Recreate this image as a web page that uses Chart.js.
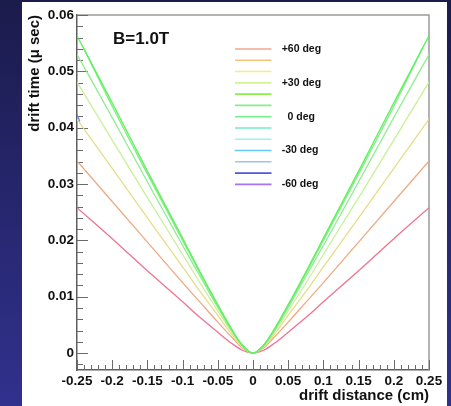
<!DOCTYPE html>
<html><head><meta charset="utf-8">
<script src="https://cdn.jsdelivr.net/npm/chart.js@4/dist/chart.umd.min.js"></script>
<style>
html,body{margin:0;padding:0;width:451px;height:406px;overflow:hidden;background:linear-gradient(180deg,#1b1b4c 0%,#26266e 50%,#31318e 100%);}
#panel{position:absolute;left:22px;top:2px;width:425px;height:404px;background:#fff;}
canvas{display:block;}
</style></head><body>
<div id="panel"><canvas id="c" width="425" height="404"></canvas></div>
<script>
// ---- data ----
const xDist = [-0.25,-0.2,-0.15,-0.1,-0.075,-0.05,-0.03,-0.015,0,0.015,0.03,0.05,0.075,0.1,0.15,0.2,0.25];
const xDistShort = [-0.241,-0.2,-0.15,-0.1,-0.075,-0.05,-0.03,-0.015,0,0.015,0.03,0.05,0.075,0.1,0.15,0.2,0.241];
const xDistEdge = [-0.25,-0.246];

const tPlus60 = [0.0258,0.0203,0.0146,0.0091,0.0063,0.0037,0.0017,0.0005,0,0.0005,0.0017,0.0037,0.0063,0.0091,0.0146,0.0203,0.0258];
const tPlus50 = [0.0341,0.0269,0.0197,0.0125,0.0090,0.0055,0.0028,0.0009,0,0.0009,0.0028,0.0055,0.0090,0.0125,0.0197,0.0269,0.0341];
const tPlus40 = [0.0415,0.0328,0.0240,0.0153,0.0109,0.0067,0.0033,0.0011,0,0.0011,0.0033,0.0067,0.0109,0.0153,0.0240,0.0328,0.0415];
const tPlus30 = [0.0481,0.0378,0.0276,0.0175,0.0124,0.0075,0.0037,0.0012,0,0.0012,0.0037,0.0075,0.0124,0.0175,0.0276,0.0378,0.0481];
const tPlus20 = [0.0530,0.0418,0.0304,0.0191,0.0136,0.0081,0.0039,0.0013,0,0.0013,0.0039,0.0081,0.0136,0.0191,0.0304,0.0418,0.0530];
const tPlus10 = [0.0542,0.0438,0.0318,0.0200,0.0141,0.0084,0.0041,0.0014,0,0.0014,0.0041,0.0084,0.0141,0.0200,0.0318,0.0438,0.0542];
const tZero   = [0.0563,0.0444,0.0323,0.0204,0.0144,0.0086,0.0042,0.0014,0,0.0014,0.0042,0.0086,0.0144,0.0204,0.0323,0.0444,0.0563];
const tMinus40 = [0.0424,0.0411];

const angleLabels = ['+60 deg','+50 deg','+40 deg','+30 deg','+20 deg','+10 deg','0 deg','-10 deg','-20 deg','-30 deg','-40 deg','-50 deg','-60 deg'];
const legendText = ['+60 deg','','','+30 deg','','','  0 deg','','','-30 deg','','','-60 deg'];

const xTickValues = [-0.25,-0.2,-0.15,-0.1,-0.05,0,0.05,0.1,0.15,0.2,0.25];
const xTickLabels = ['-0.25','-0.2','-0.15','-0.1','-0.05','0','0.05','0.1','0.15','0.2','0.25'];
const yTickValues = [0,0.01,0.02,0.03,0.04,0.05,0.06];
const yTickLabels = ['0','0.01','0.02','0.03','0.04','0.05','0.06'];

// ---- styles ----
const legendColors = ['#f6a58e','#f7c27a','#f0ee88','#d4f296','#8cee4c','#86ee86','#74ee8a','#74eec4','#98f4f4','#66c8f4','#a6c0ee','#5454de','#a474f4'];
const curveColors = {'+60 deg':'#ee7590','+50 deg':'#eeaa82','+40 deg':'#e8dc8a','+30 deg':'#c8f098','+20 deg':'#8cee8c','+10 deg':'#7cee7c','0 deg':'#5ef05e','-40 deg':'#6a8ee8'};

function pts(xs, ys){ return xs.map((x,i)=>({x:x,y:ys[i]})); }

const seriesMap = {
  '+60 deg':[xDist,tPlus60], '+50 deg':[xDist,tPlus50], '+40 deg':[xDist,tPlus40],
  '+30 deg':[xDist,tPlus30], '+20 deg':[xDist,tPlus20], '+10 deg':[xDistShort,tPlus10],
  '0 deg':[xDist,tZero], '-40 deg':[xDistEdge,tMinus40]
};

const datasets = angleLabels.map((lab,i)=>{
  const s = seriesMap[lab];
  return {
    label: lab,
    data: s ? pts(s[0], s[1]) : [],
    borderColor: curveColors[lab] || legendColors[i],
    borderWidth: 1.3,
    pointRadius: 0,
    fill: false,
    cubicInterpolationMode: 'monotone',
    order: 20 - i
  };
});

const FONT = "'Liberation Sans', Arial, Helvetica, sans-serif";

const decorPlugin = {
  id: 'decor',
  beforeDatasetsDraw(chart){
    const {ctx, chartArea:a, scales:{x, y}} = chart;
    ctx.save();
    // frame top/right
    ctx.strokeStyle = '#9a9a9a';
    ctx.lineWidth = 1.5;
    ctx.beginPath();
    ctx.moveTo(a.left, a.top); ctx.lineTo(a.right, a.top); ctx.lineTo(a.right, a.bottom);
    ctx.stroke();
    // inward ticks
    ctx.strokeStyle = '#6a6a6a';
    ctx.lineWidth = 1;
    ctx.beginPath();
    for (let k = -1; k <= 30; k++) {
      const v = k * 0.002;
      if (v < y.min - 1e-9 || v > y.max + 1e-9) continue;
      const major = (k % 5 === 0);
      const py = Math.round(y.getPixelForValue(v)) + 0.5;
      ctx.moveTo(a.left, py); ctx.lineTo(a.left + (major ? 11 : 6), py);
    }
    for (let k = -25; k <= 25; k++) {
      const v = k * 0.01;
      const major = (k % 5 === 0);
      const px = Math.round(x.getPixelForValue(v)) + 0.5;
      ctx.moveTo(px, a.bottom); ctx.lineTo(px, a.bottom - (major ? 10 : 5));
    }
    ctx.stroke();
    ctx.restore();
  },
  afterDatasetsDraw(chart){
    const {ctx, chartArea:a} = chart;
    ctx.save();
    // title
    ctx.fillStyle = '#111';
    ctx.font = "bold 17px " + FONT;
    ctx.textBaseline = 'alphabetic';
    ctx.textAlign = 'left';
    ctx.fillText('B=1.0T', a.left + 36, a.top + 28.5);
    // legend
    const x1 = a.left + 158, x2 = a.left + 194.5, tx = a.left + 204.7;
    const y0 = a.top + 34, step = 11.28;
    ctx.font = "bold 10.5px " + FONT;
    ctx.textBaseline = 'middle';
    legendColors.forEach((c,i)=>{
      const yy = y0 + i*step;
      ctx.strokeStyle = c; ctx.lineWidth = 1.6;
      ctx.beginPath(); ctx.moveTo(x1, yy); ctx.lineTo(x2, yy); ctx.stroke();
      if (legendText[i]) { ctx.fillStyle = '#111'; ctx.fillText(legendText[i], tx, yy); }
    });
    ctx.restore();
  }
};

new Chart(document.getElementById('c'), {
  type: 'line',
  data: { datasets },
  options: {
    responsive: false,
    animation: false,
    devicePixelRatio: 1,
    layout: { padding: { left: 0, top: 13, right: 18, bottom: 0 } },
    plugins: { legend: { display: false }, tooltip: { enabled: false } },
    scales: {
      x: {
        type: 'linear', min: -0.25, max: 0.25,
        afterBuildTicks: s => { s.ticks = xTickValues.map(v => ({ value: v })); },
        afterFit: s => { s.height = 36; },
        grid: { display: false, drawTicks: false },
        border: { display: true, color: '#5e5e5e', width: 1.5 },
        ticks: { callback: (v, i) => xTickLabels[i], autoSkip: false, maxRotation: 0, padding: 3,
                 color: '#111', font: { family: FONT, size: 13.5, weight: 'bold' } },
        title: { display: true, text: 'drift distance (cm)', align: 'end', color: '#111',
                 padding: { top: 0, bottom: 1 }, font: { family: FONT, size: 15, weight: 'bold' } }
      },
      y: {
        type: 'linear', min: -0.003, max: 0.06,
        afterBuildTicks: s => { s.ticks = yTickValues.map(v => ({ value: v })); },
        afterFit: s => { s.width = 55; },
        grid: { display: false, drawTicks: false },
        border: { display: true, color: '#5e5e5e', width: 1.5 },
        ticks: { callback: (v, i) => yTickLabels[i], autoSkip: false, padding: 3,
                 color: '#111', font: { family: FONT, size: 13.5, weight: 'bold' } },
        title: { display: true, text: 'drift time (\u03bc sec)', align: 'end', color: '#111',
                 padding: { top: 4, bottom: 0 }, font: { family: FONT, size: 15, weight: 'bold' } }
      }
    }
  },
  plugins: [decorPlugin]
});
</script>
</body></html>
